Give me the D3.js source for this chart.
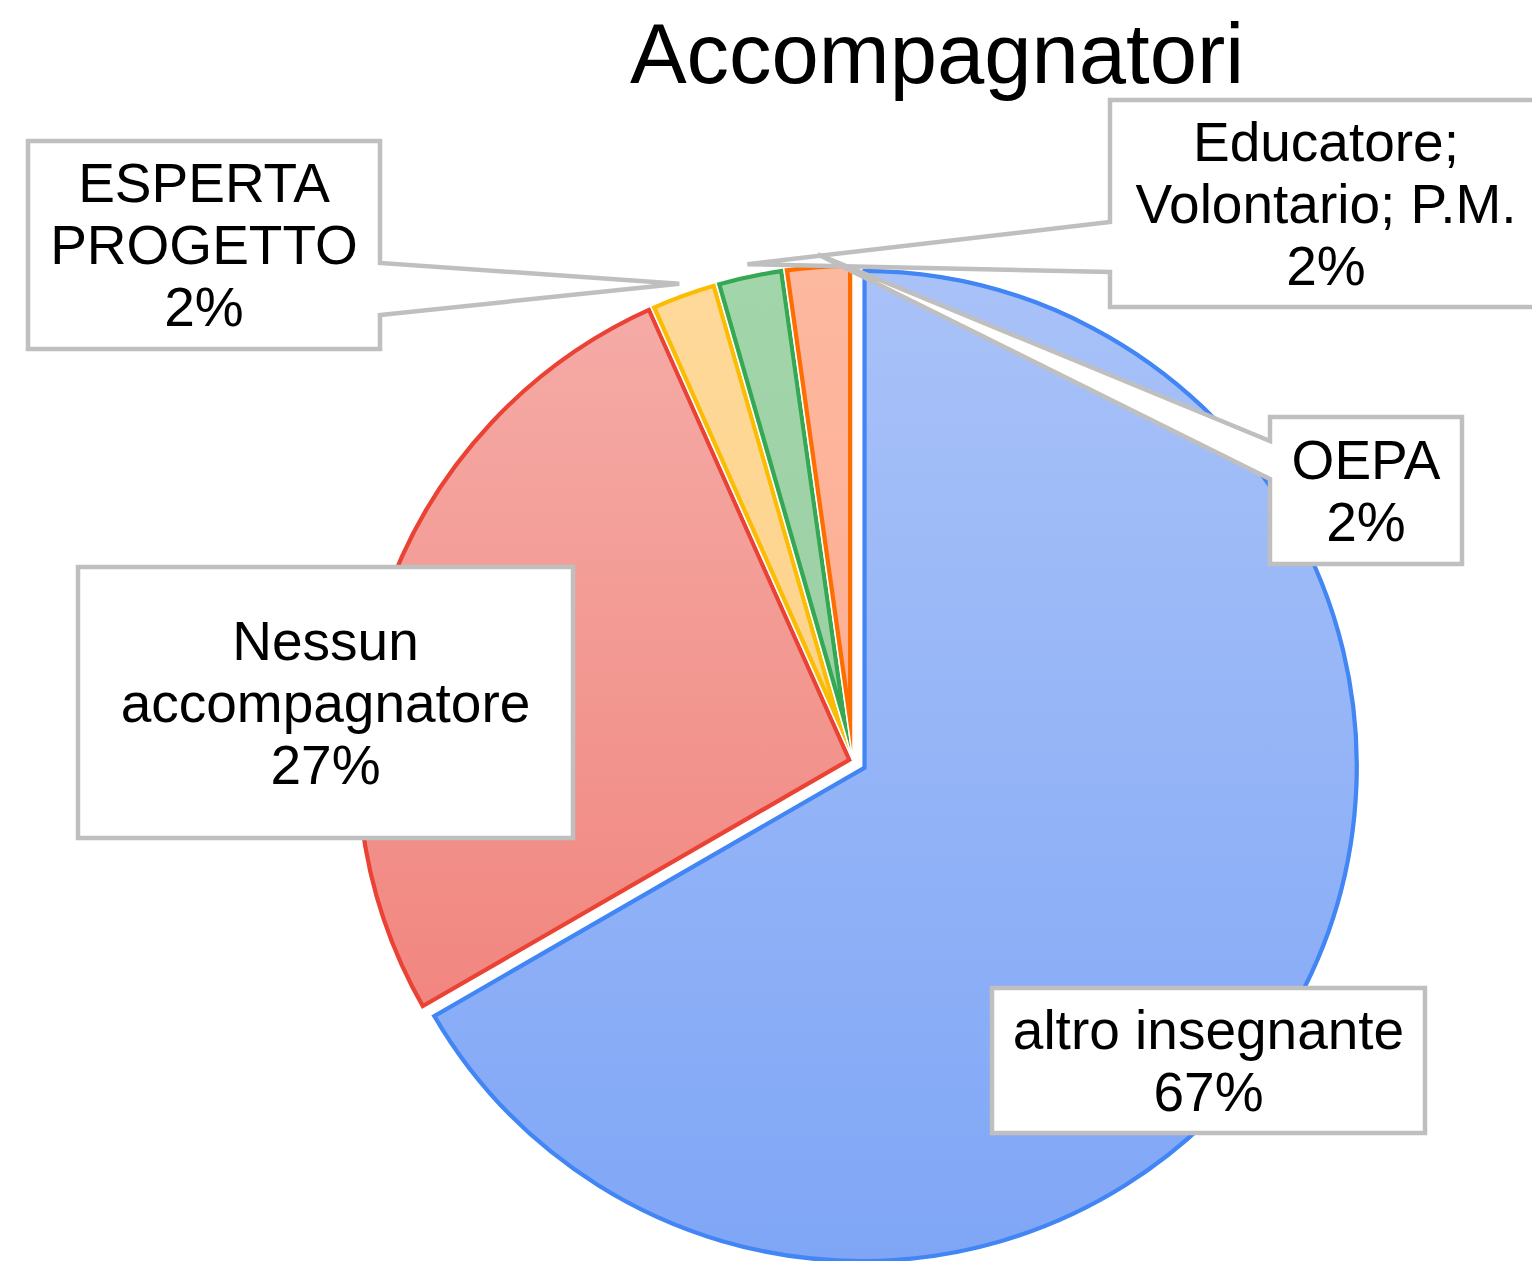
<!DOCTYPE html>
<html>
<head>
<meta charset="utf-8">
<script src="https://cdn.jsdelivr.net/npm/d3@7"></script>
<style>
  body { margin: 0; background: #fff; }
  svg { display: block; font-family: "Liberation Sans", Arial, sans-serif; }
</style>
</head>
<body>
<div id="chart"></div>
<script>
// data
const categories = ['altro insegnante', 'Nessun accompagnatore', 'ESPERTA PROGETTO', 'Educatore; Volontario; P.M.', 'OEPA'];
const counts = [30, 12, 1, 1, 1];
const labelLines = [['altro insegnante'], ['Nessun', 'accompagnatore'], ['ESPERTA', 'PROGETTO'], ['Educatore;', 'Volontario; P.M.'], ['OEPA']];
const chartTitle = 'Accompagnatori';

// colours (stroke, gradient top, gradient bottom)
const strokeColors = ['#4285f4', '#ea4335', '#fbbc04', '#34a853', '#ff6d01'];
const fillTop = ['#a9c2f8', '#f5aba6', '#fed99a', '#a3d5ab', '#fdb8a0'];
const fillBottom = ['#7fa6f6', '#f1867f', '#fdd38a', '#9bcfa4', '#fdae92'];

// label box layout
const boxes = [
    {x: 992, y: 988, w: 433, h: 145},
    {x: 78, y: 567, w: 495, h: 271},
    {x: 28, y: 141, w: 352, h: 208, side: 'right', n0: 263, n1: 315},
    {x: 1110, y: 100, w: 432, h: 207, side: 'left', n0: 222, n1: 272},
    {x: 1270, y: 417, w: 192, h: 147, side: 'left', n0: 441, n1: 479}
];

const width = 1532, height = 1261;
const cx = 853, cy = 761, R = 498;
const explode = [10, 0, 0, 0, 0];
const fontSize = 55, lineH = 62;

const svg = d3.select('#chart').append('svg')
    .attr('width', width)
    .attr('height', height);

const defs = svg.append('defs');

svg.append('rect').attr('width', width).attr('height', height).attr('fill', '#fff');

const pie = d3.pie().sort(null).value(d => d);
const arcs = pie(counts);
const total = d3.sum(counts);
const pct = d3.format('.0%');

const arc = d3.arc().innerRadius(0).outerRadius(R);

arcs.forEach((d, i) => {
    const g = defs.append('linearGradient')
        .attr('id', 'grad' + i)
        .attr('x1', 0).attr('y1', 0).attr('x2', 0).attr('y2', 1);
    g.append('stop').attr('offset', '0%').attr('stop-color', fillTop[i]);
    g.append('stop').attr('offset', '100%').attr('stop-color', fillBottom[i]);
    defs.append('clipPath').attr('id', 'clip' + i)
        .append('path').attr('d', arc(d));
});

const pieG = svg.append('g');

const slice = pieG.selectAll('g.slice')
    .data(arcs)
    .join('g')
        .attr('class', 'slice')
        .attr('transform', (d, i) => {
            const a = (d.startAngle + d.endAngle) / 2;
            return `translate(${cx + explode[i] * Math.sin(a)}, ${cy - explode[i] * Math.cos(a)})`;
        });

slice.append('path')
    .attr('d', arc)
    .attr('fill', (d, i) => `url(#grad${i})`);

// inner stroke, clipped to the slice itself
slice.append('path')
    .attr('d', arc)
    .attr('fill', 'none')
    .attr('stroke', (d, i) => strokeColors[i])
    .attr('stroke-width', 10)
    .attr('stroke-linejoin', 'miter')
    .attr('clip-path', (d, i) => `url(#clip${i})`);

// thin white separator
slice.append('path')
    .attr('d', arc)
    .attr('fill', 'none')
    .attr('stroke', '#fff')
    .attr('stroke-width', 1.5);

// title
svg.append('text')
    .attr('x', 937)
    .attr('y', 83)
    .attr('text-anchor', 'middle')
    .attr('font-size', 85)
    .attr('fill', '#000')
    .text(chartTitle);

// callouts
const tipArc = d3.arc().innerRadius(R * 1.02).outerRadius(R * 1.02);

const labelG = svg.append('g');

arcs.forEach((d, i) => {
    const b = boxes[i];
    let path;
    if (b.side) {
        const c = tipArc.centroid(d);
        const tx = cx + c[0], ty = cy + c[1];
        const x0 = b.x, x1 = b.x + b.w, y0 = b.y, y1 = b.y + b.h;
        if (b.side === 'right') {
            path = `M${x0},${y0}H${x1}V${b.n0}L${tx},${ty}L${x1},${b.n1}V${y1}H${x0}Z`;
        } else {
            path = `M${x0},${y0}H${x1}V${y1}H${x0}V${b.n1}L${tx},${ty}L${x0},${b.n0}Z`;
        }
    } else {
        path = `M${b.x},${b.y}h${b.w}v${b.h}h${-b.w}Z`;
    }
    labelG.append('path')
        .attr('d', path)
        .attr('fill', '#fff')
        .attr('stroke', '#bfbfbf')
        .attr('stroke-width', 4.5)
        .attr('stroke-linejoin', 'miter');

    const lines = labelLines[i].concat([pct(d.value / total)]);
    const mx = b.x + b.w / 2, my = b.y + b.h / 2;
    const t = labelG.append('text')
        .attr('text-anchor', 'middle')
        .attr('font-size', fontSize)
        .attr('fill', '#000');
    lines.forEach((ln, k) => {
        t.append('tspan')
            .attr('x', mx)
            .attr('y', my + (k - (lines.length - 1) / 2) * lineH)
            .attr('dy', '0.35em')
            .text(ln);
    });
});
</script>
</body>
</html>
